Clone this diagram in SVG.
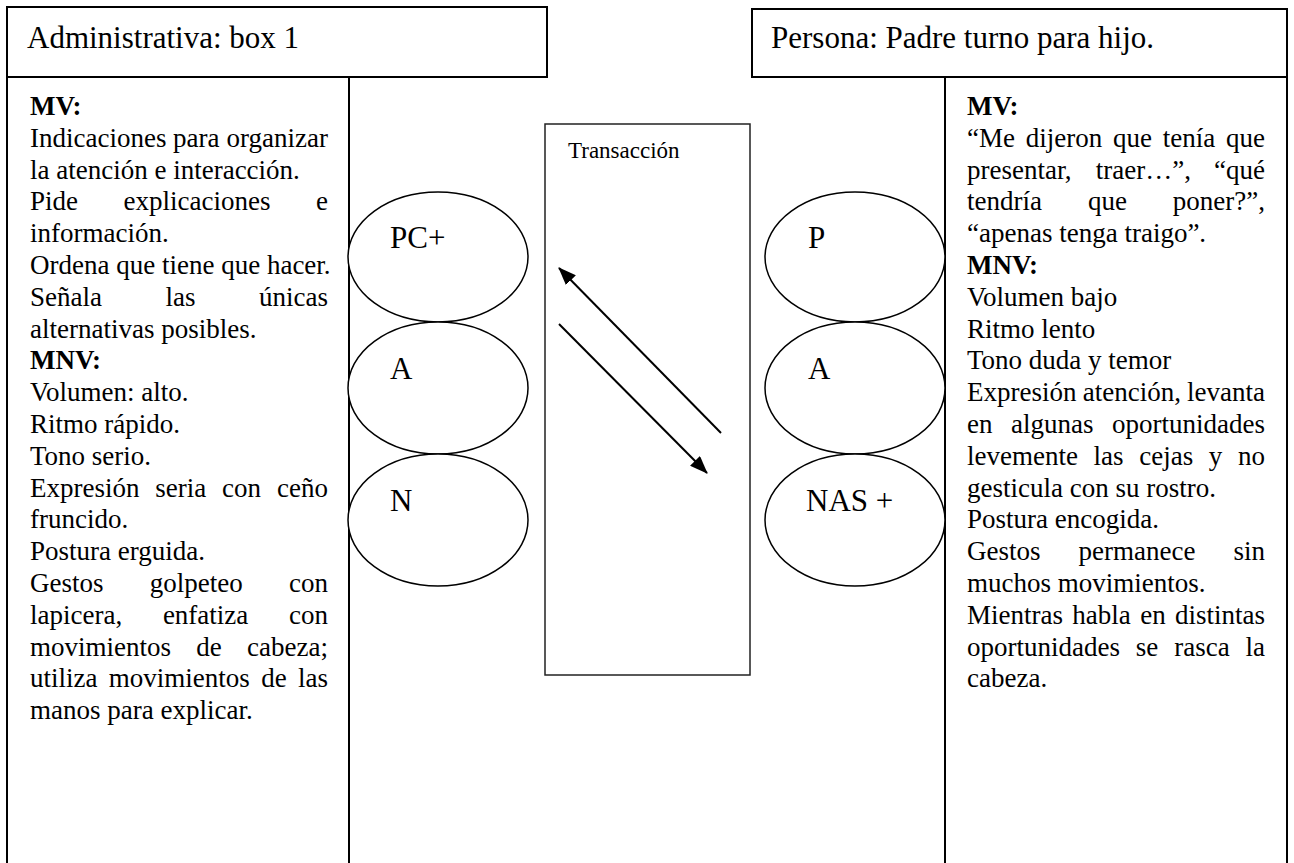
<svg xmlns="http://www.w3.org/2000/svg" width="1294" height="863" viewBox="0 0 1294 863">
<defs>
<style>
.t{font-family:"Liberation Serif","Times New Roman",serif;font-size:27px;fill:#000}
.h{font-size:31px}
.lb{font-size:31px}
.b{font-weight:bold}
.sm{font-family:"Liberation Serif","Times New Roman",serif;font-size:23px;fill:#000}
.e{text-anchor:end}
.box{fill:none;stroke:#000;stroke-width:2}
.ln{stroke:#000;stroke-width:2}
.ell{fill:#fff;stroke:#000;stroke-width:1.5}
.cbox{fill:none;stroke:#222;stroke-width:1.5}
.arr{stroke:#000;stroke-width:2;fill:none}
</style>
<marker id="ah" viewBox="0 0 18 14" refX="17" refY="7" markerWidth="18" markerHeight="14" markerUnits="userSpaceOnUse" orient="auto">
<path d="M0,0 L18,7 L0,14 z" fill="#000"/>
</marker>
</defs>
<rect width="1294" height="863" fill="#fff"/>

<g id="left-panel">
<rect class="box" x="7" y="7" width="540" height="70"/>
<text class="t h" x="27" y="48">Administrativa: box 1</text>
<line class="ln" x1="7" y1="77" x2="7" y2="863"/>
<line class="ln" x1="349" y1="77" x2="349" y2="863"/>
<text class="t b" x="30" y="115">MV:</text>
<text class="t" x="30" y="146.8">Indicaciones</text><text class="t" x="173" y="146.8">para</text><text class="t e" x="328" y="146.8">organizar</text>
<text class="t" x="30" y="178.6">la atención e interacción.</text>
<text class="t" x="30" y="210.4">Pide</text><text class="t" x="123.5" y="210.4">explicaciones</text><text class="t e" x="328" y="210.4">e</text>
<text class="t" x="30" y="242.2">información.</text>
<text class="t" x="30" y="274">Ordena que tiene que hacer.</text>
<text class="t" x="30" y="305.8">Señala</text><text class="t" x="165.5" y="305.8">las</text><text class="t e" x="328" y="305.8">únicas</text>
<text class="t" x="30" y="337.6">alternativas posibles.</text>
<text class="t b" x="30" y="369.4">MNV:</text>
<text class="t" x="30" y="401.2">Volumen: alto.</text>
<text class="t" x="30" y="433">Ritmo rápido.</text>
<text class="t" x="30" y="464.8">Tono serio.</text>
<text class="t" x="30" y="496.6">Expresión</text><text class="t" x="155.3" y="496.6">seria</text><text class="t" x="222.1" y="496.6">con</text><text class="t e" x="328" y="496.6">ceño</text>
<text class="t" x="30" y="528.4">fruncido.</text>
<text class="t" x="30" y="560.2">Postura erguida.</text>
<text class="t" x="30" y="592">Gestos</text><text class="t" x="149.8" y="592">golpeteo</text><text class="t e" x="328" y="592">con</text>
<text class="t" x="30" y="623.8">lapicera,</text><text class="t" x="162.9" y="623.8">enfatiza</text><text class="t e" x="328" y="623.8">con</text>
<text class="t" x="30" y="655.6">movimientos</text><text class="t" x="196.3" y="655.6">de</text><text class="t e" x="328" y="655.6">cabeza;</text>
<text class="t" x="30" y="687.4">utiliza</text><text class="t" x="108.8" y="687.4">movimientos</text><text class="t" x="261.2" y="687.4">de</text><text class="t e" x="328" y="687.4">las</text>
<text class="t" x="30" y="719.2">manos para explicar.</text>
</g>

<g id="right-panel">
<rect class="box" x="752" y="9" width="535" height="68"/>
<text class="t h" x="771" y="48">Persona: Padre turno para hijo.</text>
<line class="ln" x1="945" y1="77" x2="945" y2="863"/>
<line class="ln" x1="1287" y1="77" x2="1287" y2="863"/>
<text class="t b" x="967" y="115">MV:</text>
<text class="t" x="967" y="146.8">“Me</text><text class="t" x="1025.8" y="146.8">dijeron</text><text class="t" x="1113" y="146.8">que</text><text class="t" x="1162.8" y="146.8">tenía</text><text class="t e" x="1265" y="146.8">que</text>
<text class="t" x="967" y="178.6">presentar,</text><text class="t" x="1095.8" y="178.6">traer…”,</text><text class="t e" x="1265" y="178.6">“qué</text>
<text class="t" x="967" y="210.4">tendría</text><text class="t" x="1087.9" y="210.4">que</text><text class="t e" x="1265" y="210.4">poner?”,</text>
<text class="t" x="967" y="242.2">“apenas tenga traigo”.</text>
<text class="t b" x="967" y="274">MNV:</text>
<text class="t" x="967" y="305.8">Volumen bajo</text>
<text class="t" x="967" y="337.6">Ritmo lento</text>
<text class="t" x="967" y="369.4">Tono duda y temor</text>
<text class="t" x="967" y="401.2">Expresión</text><text class="t" x="1082.7" y="401.2">atención,</text><text class="t e" x="1265" y="401.2">levanta</text>
<text class="t" x="967" y="433">en</text><text class="t" x="1011" y="433">algunas</text><text class="t e" x="1265" y="433">oportunidades</text>
<text class="t" x="967" y="464.8">levemente</text><text class="t" x="1093.6" y="464.8">las</text><text class="t" x="1139.2" y="464.8">cejas</text><text class="t" x="1208.8" y="464.8">y</text><text class="t e" x="1265" y="464.8">no</text>
<text class="t" x="967" y="496.6">gesticula con su rostro.</text>
<text class="t" x="967" y="528.4">Postura encogida.</text>
<text class="t" x="967" y="560.2">Gestos</text><text class="t" x="1078.5" y="560.2">permanece</text><text class="t e" x="1265" y="560.2">sin</text>
<text class="t" x="967" y="592">muchos movimientos.</text>
<text class="t" x="967" y="623.8">Mientras</text><text class="t" x="1072.3" y="623.8">habla</text><text class="t" x="1140.2" y="623.8">en</text><text class="t e" x="1265" y="623.8">distintas</text>
<text class="t" x="967" y="655.6">oportunidades</text><text class="t" x="1135.8" y="655.6">se</text><text class="t" x="1174.2" y="655.6">rasca</text><text class="t e" x="1265" y="655.6">la</text>
<text class="t" x="967" y="687.4">cabeza.</text>
</g>

<g id="node-PC">
<ellipse class="ell" cx="438" cy="257" rx="90" ry="65"/>
<text class="t lb" x="390" y="248">PC+</text>
</g>
<g id="node-A-left">
<ellipse class="ell" cx="438" cy="388" rx="90" ry="66"/>
<text class="t lb" x="390" y="379">A</text>
</g>
<g id="node-N">
<ellipse class="ell" cx="438" cy="520" rx="90" ry="66"/>
<text class="t lb" x="390" y="511">N</text>
</g>

<g id="node-P">
<ellipse class="ell" cx="855" cy="257" rx="90" ry="65"/>
<text class="t lb" x="808" y="248">P</text>
</g>
<g id="node-A-right">
<ellipse class="ell" cx="855" cy="388" rx="90" ry="66"/>
<text class="t lb" x="808" y="379">A</text>
</g>
<g id="node-NAS">
<ellipse class="ell" cx="855" cy="520" rx="90" ry="66"/>
<text class="t lb" x="806" y="511">NAS +</text>
</g>

<g id="transaccion">
<rect class="cbox" x="545" y="124" width="205" height="551"/>
<text class="sm" x="568" y="158">Transacción</text>
</g>

<g id="connectors">
<line class="arr" x1="721" y1="433" x2="559" y2="268" marker-end="url(#ah)"/>
<line class="arr" x1="559" y1="324" x2="707" y2="473" marker-end="url(#ah)"/>
</g>
</svg>
